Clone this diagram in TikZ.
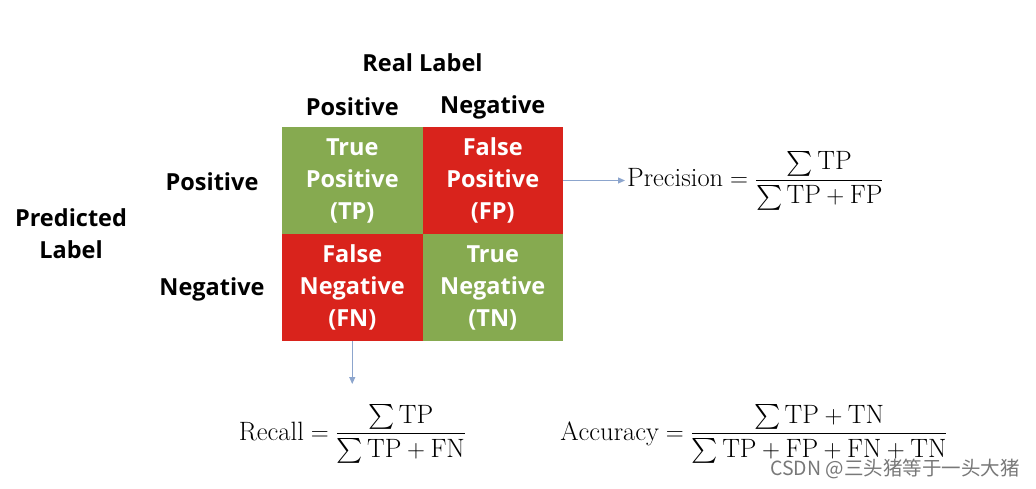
\documentclass[tikz,border=0pt]{standalone}
\usepackage{amsmath}
\usepackage{fontspec}
\usetikzlibrary{arrows.meta}
\newfontfamily\labfont{Open Sans}
\newfontfamily\cjkfont{Noto Sans CJK SC}
\definecolor{cellgreen}{RGB}{134,170,80}
\definecolor{cellred}{RGB}{217,35,28}
\definecolor{arrowblue}{RGB}{140,165,205}
\definecolor{wmgray}{RGB}{120,120,120}
\tikzset{
  cell/.style={minimum width=140.5pt, minimum height=107pt, inner sep=0pt, align=center,
    text=white, font=\labfont\bfseries\fontsize{23.5}{32}\selectfont},
  hdr/.style={inner sep=0pt, align=center, text=black, font=\labfont\bfseries\fontsize{23.5}{32}\selectfont},
  formula/.style={inner sep=2pt, font=\fontsize{26.5}{30}\selectfont},
  conn/.style={draw=arrowblue, line width=0.9pt, -{Triangle[length=7pt,width=6pt]}}
}
\begin{document}
\begin{tikzpicture}[x=1pt,y=-1pt]
\useasboundingbox (0,0) rectangle (1036,489);
\fill[white] (0,0) rectangle (1036,489);
% cells
\node[cell, fill=cellgreen] (tp) at (352.25,180.5) {True\\Positive\\(TP)};
\node[cell, fill=cellred]   (fp) at (492.75,180.5) {False\\Positive\\(FP)};
\node[cell, fill=cellred]   (fn) at (352.25,287.5) {False\\Negative\\(FN)};
\node[cell, fill=cellgreen] (tn) at (492.75,287.5) {True\\Negative\\(TN)};
% headers
\node[hdr] (real) at (422.5,63) {Real Label};
\node[hdr] (cpos) at (352.25,107) {Positive};
\node[hdr] (cneg) at (492.75,107) {Negative};
\node[hdr] (rpos) at (212,182) {Positive};
\node[hdr] (rneg) at (212,289) {Negative};
\node[hdr] (pred) at (71,234) {Predicted\\Label};
% formulas
\node[formula, anchor=west] (prec) at (625,180.5)
  {$\mathrm{Precision}=\dfrac{\sum\mathrm{TP}}{\sum\mathrm{TP}+\mathrm{FP}}$};
\node[formula] (rec) at (352.5,434)
  {$\mathrm{Recall}=\dfrac{\sum\mathrm{TP}}{\sum\mathrm{TP}+\mathrm{FN}}$};
\node[formula] (acc) at (754,434)
  {$\mathrm{Accuracy}=\dfrac{\sum\mathrm{TP}+\mathrm{TN}}{\sum\mathrm{TP}+\mathrm{FP}+\mathrm{FN}+\mathrm{TN}}$};
% connectors
\coordinate (recarr) at (352.25,384);
\draw[conn] (fp.east) -- (prec.west);
\draw[conn] (fn.south) -- (recarr);
% watermark
\node[anchor=east, inner sep=0pt, text=wmgray, font=\cjkfont\fontsize{19.5}{22}\selectfont] (wm) at (1020,469)
  {CSDN @三头猪等于一头大猪};
\end{tikzpicture}
\end{document}
